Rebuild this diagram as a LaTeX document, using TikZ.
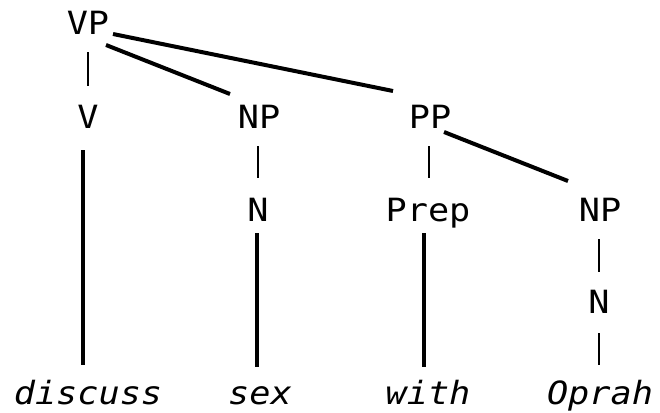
\documentclass[tikz,border=0pt]{standalone}
\usepackage{fontspec}
\setmonofont[FakeStretch=1.1]{DejaVu Sans Mono}
\begin{document}
\begin{tikzpicture}[x=1pt,y=-1pt,
  lbl/.style={anchor=base,inner sep=0pt,font=\fontsize{32}{38}\selectfont\ttfamily},
  word/.style={lbl,font=\fontsize{32}{38}\selectfont\ttfamily\itshape},
  branch/.style={line width=4pt},
  tick/.style={line width=2pt}]
\useasboundingbox (0,0) rectangle (660,412);
% category labels
\node[lbl] (vp)   at (88,35)   {VP};
\node[lbl] (v)    at (88,128)  {V};
\node[lbl] (np1)  at (259,128) {NP};
\node[lbl] (pp)   at (430,128) {PP};
\node[lbl] (n1)   at (258,221) {N};
\node[lbl] (prep) at (428,221) {Prep};
\node[lbl] (np2)  at (600,221) {NP};
\node[lbl] (n2)   at (599,313) {N};
% words
\node[word] (w1) at (88,404)  {discuss};
\node[word] (w2) at (260,404) {sex};
\node[word] (w3) at (428,404) {with};
\node[word] (w4) at (600,404) {Oprah};
% short vertical ties
\draw[tick] ([shift={(0,17)}]vp.base)   -- ([shift={(0,-42)}]v.base);
\draw[tick] ([shift={(-1,18)}]np1.base) -- ([shift={(0,-43)}]n1.base);
\draw[tick] ([shift={(-1,18)}]pp.base)  -- ([shift={(1,-43)}]prep.base);
\draw[tick] ([shift={(-1,18)}]np2.base) -- ([shift={(0,-41)}]n2.base);
\draw[tick] ([shift={(0,20)}]n2.base)   -- ([shift={(-1,-39)}]w4.base);
% branches
\draw[branch] ([shift={(25,-1)}]vp.base) -- ([shift={(-37,-37)}]pp.base);
\draw[branch] ([shift={(18,10)}]vp.base) -- ([shift={(-29,-34)}]np1.base);
\draw[branch] ([shift={(14,4)}]pp.base)  -- ([shift={(-32,-40)}]np2.base);
\draw[branch] ([shift={(-5,22)}]v.base)     -- ([shift={(-5,-39)}]w1.base);
\draw[branch] ([shift={(-1,12)}]n1.base)    -- ([shift={(-3,-37)}]w2.base);
\draw[branch] ([shift={(-4,12)}]prep.base)  -- ([shift={(-4,-37)}]w3.base);
\end{tikzpicture}
\end{document}
